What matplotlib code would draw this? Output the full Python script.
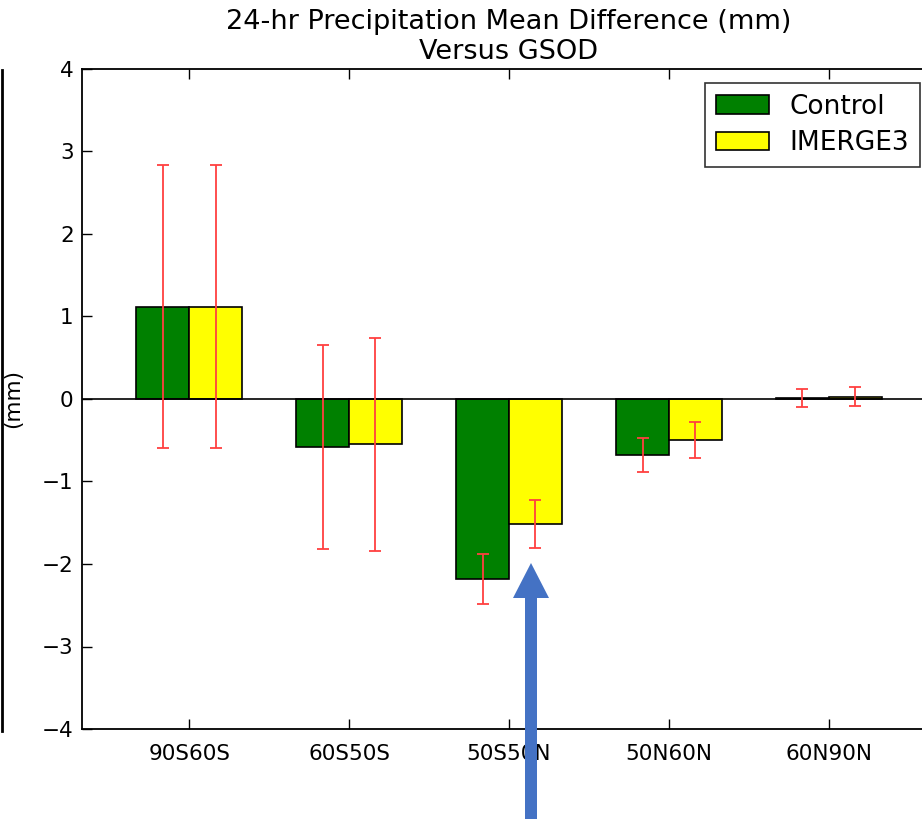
import matplotlib
matplotlib.use("Agg")
import matplotlib.pyplot as plt
import numpy as np
from matplotlib.lines import Line2D
from matplotlib.patches import FancyArrow

regions = ["90S60S", "60S50S", "50S50N", "50N60N", "60N90N"]
control = [1.12, -0.58, -2.18, -0.68, 0.01]
control_err = [1.72, 1.24, 0.30, 0.21, 0.11]
imerge3 = [1.12, -0.55, -1.52, -0.50, 0.03]
imerge3_err = [1.72, 1.29, 0.29, 0.22, 0.11]
yticks = [-4, -3, -2, -1, 0, 1, 2, 3, 4]

W, H = 922, 819
fig = plt.figure(figsize=(W / 100, H / 100), dpi=100)
left = 82 / W
bottom = 1 - 729 / H
height = (729 - 69) / H
xmin, xmax = -0.67, 4.67
width = (936 - 82) / W
ax = fig.add_axes([left, bottom, width, height])

x = np.arange(len(regions))
bw = 0.33
ecol = "#ff4040"
ax.bar(x - bw / 2, control, bw, color="green", edgecolor="black", linewidth=1.2,
       label="Control", zorder=2)
ax.bar(x + bw / 2, imerge3, bw, color="yellow", edgecolor="black", linewidth=1.2,
       label="IMERGE3", zorder=2)
ax.errorbar(x - bw / 2, control, yerr=control_err, fmt="none", ecolor=ecol,
            elinewidth=1.3, capsize=4.5, capthick=1.3, zorder=3)
ax.errorbar(x + bw / 2, imerge3, yerr=imerge3_err, fmt="none", ecolor=ecol,
            elinewidth=1.3, capsize=4.5, capthick=1.3, zorder=3)
ax.axhline(0, color="black", linewidth=1.2, zorder=2.5)

ax.set_xlim(xmin, xmax)
ax.set_ylim(-4, 4)
ax.set_yticks(yticks)
ax.set_yticklabels([("\u2212" + str(-v)) if v < 0 else str(v) for v in yticks])
ax.set_xticks(x)
ax.set_xticklabels(regions)
ax.tick_params(direction="in", top=True, right=True, length=7, width=1,
               labelsize=15.5)
ax.tick_params(axis="x", pad=11)
ax.tick_params(axis="y", pad=6)
for s in ax.spines.values():
    s.set_linewidth(1.3)
ax.set_ylabel("(mm)", fontsize=15.5)
ax.yaxis.set_label_coords(-(82 - 23) / (width * W), 0.5)

fig.text((222 + 795) / 2 / W, 1 - 37 / H,
         "24-hr Precipitation Mean Difference (mm)\nVersus GSOD",
         ha="center", va="center", fontsize=19.5)

leg = ax.legend(loc="upper right", bbox_to_anchor=(920 / W, 1 - 83 / H),
                bbox_transform=fig.transFigure, fontsize=19, frameon=True,
                fancybox=False, edgecolor="black", handlelength=2.0,
                borderaxespad=0, handleheight=0.7, borderpad=0.4,
                labelspacing=0.4, handletextpad=0.8)
leg.get_frame().set_linewidth(1.2)

fig.add_artist(Line2D([2 / W, 2 / W], [1 - 70 / H, 1 - 731 / H],
                      transform=fig.transFigure, color="black", linewidth=2))

ax_arrow = fig.add_axes([0, 0, 1, 1], facecolor="none")
ax_arrow.set_xlim(0, W)
ax_arrow.set_ylim(H, 0)
ax_arrow.axis("off")
ax_arrow.add_patch(FancyArrow(531, 819, 0, -(819 - 563), width=12,
                              head_width=36, head_length=35,
                              length_includes_head=True, color="#4472C4",
                              linewidth=0))

fig.savefig("out.png", dpi=100)
